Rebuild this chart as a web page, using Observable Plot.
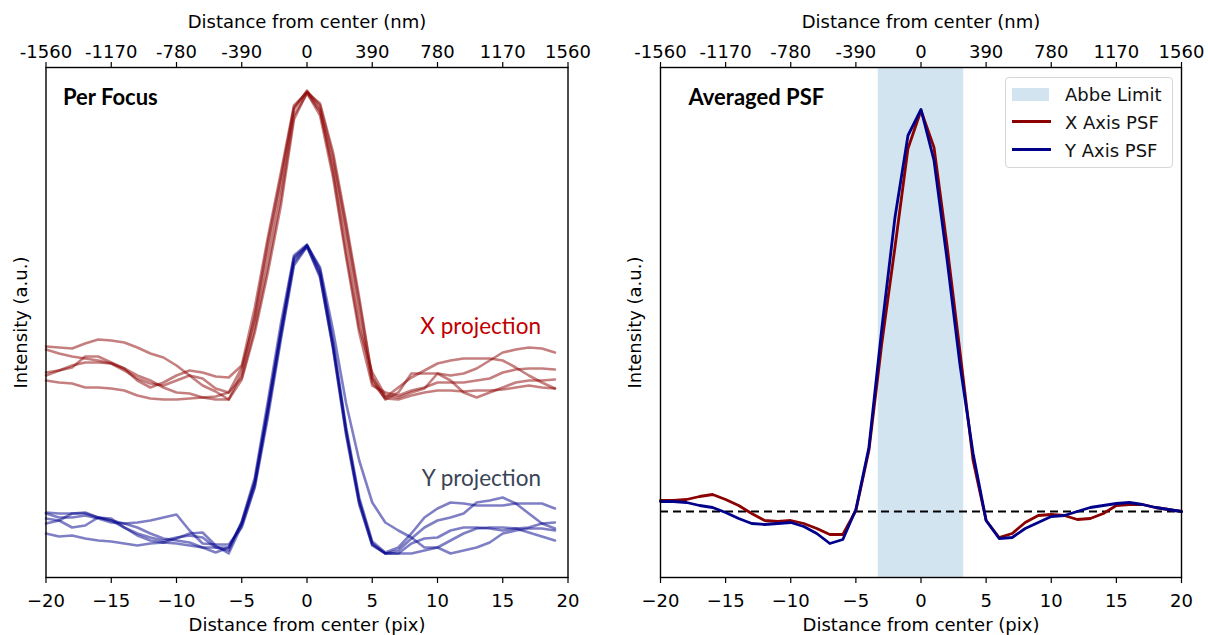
<!DOCTYPE html>
<html>
<head>
<meta charset="utf-8">
<script src="https://cdn.jsdelivr.net/npm/d3@7"></script>
<script src="https://cdn.jsdelivr.net/npm/@observablehq/plot@0.6"></script>
<style>
  body { margin: 0; background: #fff; }
  #wrap { position: relative; width: 1208px; height: 635px; font-family: "DejaVu Sans", sans-serif; background: #fff; }
  .panel { position: absolute; top: 0; }
  .legend { position: absolute; left: 1005px; top: 77px; width: 166px; height: 89px; border: 1px solid #d6d6d6; border-radius: 4px; background: rgba(255,255,255,0.85); font-family: "DejaVu Sans", sans-serif; font-size: 18px; color: #111; }
  .legend .row { position: absolute; left: 0; width: 166px; height: 28px; }
  .legend .sw { position: absolute; left: 6px; }
  .legend .lab { position: absolute; left: 59px; top: 50%; transform: translateY(-50%); white-space: nowrap; }
</style>
</head>
<body>
<div id="wrap"></div>
<script>
// ---------- shared axis data ----------
const pixTicks = [-20, -15, -10, -5, 0, 5, 10, 15, 20];
const nmTickLabels = ["-1560", "-1170", "-780", "-390", "0", "390", "780", "1170", "1560"];

// ---------- Per Focus (left) : sample positions (pix) ----------
const pixFocus = [-20,-19,-18,-17,-16,-15,-14,-13,-12,-11,-10,-9,-8,-7,-6,-5,-4,-3,-2,-1,0,1,2,3,4,5,6,7,8,9,10,11,12,13,14,15,16,17,18,19];

// X projection, one array per focus plane (a.u.)
const xProj1 = [231,230,229,234,238,237,235,230,224,220,212,202,192,186,178,205,262,335,400,470,486,472,420,350,275,199,178,185,204,204,204,202,204,209,217,225,228,230,229,225];
const xProj2 = [228,224,221,219,217,214,209,197,190,195,202,207,205,201,200,212,270,340,405,472,485,474,425,355,280,200,180,190,200,207,214,217,219,219,219,217,210,202,195,189];
const xProj3 = [205,207,210,221,221,215,209,202,197,190,185,184,180,178,178,198,245,305,372,458,485,462,400,320,245,192,185,182,187,190,195,195,195,197,199,205,208,209,209,208];
const xProj4 = [202,207,212,215,215,214,207,199,194,192,197,202,199,189,185,210,258,325,392,468,487,468,405,325,250,205,182,180,185,189,204,197,185,180,185,190,195,197,197,198];
const xProj5 = [197,195,194,190,190,189,187,182,179,178,178,179,180,181,185,200,250,312,380,462,484,466,412,340,262,195,179,178,182,185,187,187,186,187,187,188,190,192,190,189];

// Y projection, one array per focus plane (a.u.)
const yProj1 = [65,64,64,64,60,57,54,50,44,39,37,35,30,25,30,54,95,168,245,318,332,305,232,147,77,34,24,24,24,27,30,37,44,49,50,50,49,50,54,55];
const yProj2 = [64,60,60,62,59,55,54,55,57,60,63,47,34,33,33,50,90,160,238,312,331,302,228,142,73,32,24,27,39,50,57,60,64,75,77,80,74,64,54,49];
const yProj3 = [59,57,50,52,60,59,50,44,40,37,40,42,40,30,27,56,100,176,254,322,333,308,236,150,80,36,25,30,44,60,69,75,74,72,72,72,74,74,74,69];
const yProj4 = [54,57,64,65,60,57,50,42,37,35,39,44,45,32,24,52,92,165,242,315,331,300,230,145,75,33,24,24,34,39,40,47,50,50,49,47,49,45,41,37];
const yProj5 = [44,41,42,39,37,36,34,32,34,35,34,32,30,30,30,55,96,170,247,320,332,310,247,174,117,75,55,47,40,30,30,24,27,30,35,44,47,49,49,47];

// ---------- Averaged PSF (right) ----------
const pixAvg = [-20,-19,-18,-17,-16,-15,-14,-13,-12,-11,-10,-9,-8,-7,-6,-5,-4,-3,-2,-1,0,1,2,3,4,5,6,7,8,9,10,11,12,13,14,15,16,17,18,19,20];
const xAxisPSF = [77,77,78,81,83,78,72,64,57,56,57,54,49,43,43,67,127,235,330,429,467,430,332,225,117,57,40,44,55,62,63,62,58,59,64,72,73,73,70,68,66];
const yAxisPSF = [76,76,75,72,70,65,59,54,53,54,55,51,44,34,38,68,130,250,360,442,468,417,318,212,124,57,39,40,49,55,61,62,66,70,72,74,75,73,70,68,66];
const abbeHalfWidth = [3.28];   // pix, half-width of the Abbe limit band
const backgroundLevel = [66];   // dashed reference level (a.u.)

// ---------- build tidy tables ----------
function tidy(pix, arrays, prefix) {
  const rows = [];
  arrays.forEach((arr, k) => arr.forEach((v, i) => rows.push({pix: pix[i], v, id: prefix + k})));
  return rows;
}
const redRows = tidy(pixFocus, [xProj1, xProj2, xProj3, xProj4, xProj5], "x");
const blueRows = tidy(pixFocus, [yProj1, yProj2, yProj3, yProj4, yProj5], "y");
const avgX = pixAvg.map((p, i) => ({pix: p, v: xAxisPSF[i]}));
const avgY = pixAvg.map((p, i) => ({pix: p, v: yAxisPSF[i]}));

function panel(marginLeft, marginRight, marks) {
  return Plot.plot({
    width: 604, height: 635,
    marginLeft, marginRight, marginTop: 67, marginBottom: 58,
    x: {domain: [-20, 20]},
    y: {domain: [0, 510], axis: null},
    style: {fontFamily: "DejaVu Sans", fontSize: "18px", background: "white", color: "black", overflow: "visible"},
    marks: [
      ...marks,
      Plot.axisX({anchor: "bottom", ticks: pixTicks, tickFormat: d3.format("d"), tickSize: 6, tickPadding: 11, stroke: "black", strokeWidth: 1.2, label: null, fontSize: 18}),
      Plot.axisX({anchor: "top", ticks: pixTicks, tickFormat: d => nmTickLabels[pixTicks.indexOf(d)], tickSize: 6, tickPadding: 4, stroke: "black", strokeWidth: 1.2, label: null, fontSize: 18}),
      Plot.frame({stroke: "black", strokeWidth: 1.4}),
      Plot.text(["Distance from center (pix)"], {text: d => d, frameAnchor: "bottom", dy: 47.5, textAnchor: "middle", lineAnchor: "middle", fontSize: 18, fill: "black"}),
      Plot.text(["Distance from center (nm)"], {text: d => d, frameAnchor: "top", dy: -45.5, textAnchor: "middle", lineAnchor: "middle", fontSize: 18, fill: "black"}),
      Plot.text(["Intensity (a.u.)"], {text: d => d, frameAnchor: "left", rotate: -90, dx: -25, textAnchor: "middle", lineAnchor: "middle", fontSize: 18, fill: "black"})
    ]
  });
}

const left = panel(45.5, 36.5, [
  Plot.line(redRows, {x: "pix", y: "v", z: "id", stroke: "darkred", strokeOpacity: 0.5, strokeWidth: 2.6}),
  Plot.line(blueRows, {x: "pix", y: "v", z: "id", stroke: "darkblue", strokeOpacity: 0.5, strokeWidth: 2.6}),
  Plot.text(["Per Focus"], {text: d => d, frameAnchor: "top-left", dx: 17, dy: 30, textAnchor: "start", lineAnchor: "middle", fontFamily: "Lato", fontWeight: "bold", fontSize: 22, fill: "black"}),
  Plot.text(["X projection"], {text: d => d, frameAnchor: "right", dx: -27, dy: 4, textAnchor: "end", lineAnchor: "middle", fontFamily: "Lato", fontSize: 22.5, fill: "#c00000"}),
  Plot.text(["Y projection"], {text: d => d, frameAnchor: "right", dx: -27, dy: 156, textAnchor: "end", lineAnchor: "middle", fontFamily: "Lato", fontSize: 22.5, fill: "#3a4556"})
]);

const right = panel(56, 27, [
  Plot.rect(abbeHalfWidth, {x1: d => -d, x2: d => d, fill: "#1f77b4", fillOpacity: 0.2}),
  Plot.ruleY(backgroundLevel, {stroke: "black", strokeWidth: 2.2, strokeDasharray: "8,5"}),
  Plot.line(avgX, {x: "pix", y: "v", stroke: "darkred", strokeWidth: 2.8}),
  Plot.line(avgY, {x: "pix", y: "v", stroke: "darkblue", strokeWidth: 2.8}),
  Plot.text(["Averaged PSF"], {text: d => d, frameAnchor: "top-left", dx: 28, dy: 30, textAnchor: "start", lineAnchor: "middle", fontFamily: "Lato", fontWeight: "bold", fontSize: 22, fill: "black"})
]);

const wrap = document.getElementById("wrap");
left.classList.add("panel"); left.style.left = "0px";
right.classList.add("panel"); right.style.left = "604px";
wrap.appendChild(left);
wrap.appendChild(right);

// legend (HTML overlay inside the right axes)
const legendItems = [
  {label: "Abbe Limit", kind: "patch", color: "rgba(31,119,180,0.2)"},
  {label: "X Axis PSF", kind: "line", color: "darkred"},
  {label: "Y Axis PSF", kind: "line", color: "darkblue"}
];
const lg = document.createElement("div");
lg.className = "legend";
legendItems.forEach((it, i) => {
  const row = document.createElement("div");
  row.className = "row";
  row.style.top = (2 + i * 27.8) + "px";
  const sw = document.createElement("div");
  sw.className = "sw";
  if (it.kind === "patch") {
    Object.assign(sw.style, {width: "37px", height: "13px", top: "7.5px", background: it.color});
  } else {
    Object.assign(sw.style, {width: "39px", height: "3px", top: "12.5px", background: it.color});
  }
  const lab = document.createElement("div");
  lab.className = "lab";
  lab.textContent = it.label;
  row.appendChild(sw); row.appendChild(lab);
  lg.appendChild(row);
});
wrap.appendChild(lg);
</script>
</body>
</html>
